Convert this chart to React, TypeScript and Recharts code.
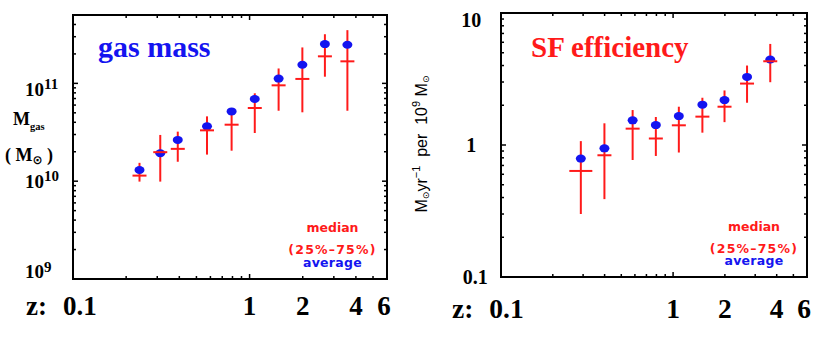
import React from 'react';
import { ComposedChart, Scatter, XAxis, YAxis, ErrorBar } from 'recharts';

// ---------- data ----------
const zGas = [0.238, 0.312, 0.392, 0.574, 0.791, 1.07, 1.46, 1.99, 2.67, 3.58];
const gasAverage = [1.3e10, 1.93e10, 2.64e10, 3.64e10, 5.17e10, 6.92e10, 1.12e11, 1.55e11, 2.52e11, 2.48e11];
const gasMedian = [1.14e10, 1.98e10, 2.14e10, 3.31e10, 3.78e10, 5.6e10, 9.55e10, 1.11e11, 1.89e11, 1.68e11];
const gasP25 = [0.99e10, 0.99e10, 1.58e10, 1.87e10, 2.05e10, 3.11e10, 5.25e10, 5.06e10, 1.17e11, 5.25e10];
const gasP75 = [1.54e10, 2.97e10, 3.21e10, 4.6e10, 5.6e10, 7.91e10, 1.42e11, 2.33e11, 3.18e11, 3.5e11];

const zSfe = [0.291, 0.399, 0.582, 0.794, 1.08, 1.48, 1.99, 2.69, 3.67];
const sfeAverage = [0.789, 0.944, 1.537, 1.416, 1.656, 2.02, 2.19, 3.28, 4.44];
const sfeMedian = [0.636, 0.836, 1.33, 1.12, 1.41, 1.64, 1.95, 2.92, 4.31];
const sfeP25 = [0.3, 0.389, 0.77, 0.826, 0.877, 1.24, 1.49, 2.09, 2.99];
const sfeP75 = [1.07, 1.46, 1.84, 1.63, 1.95, 2.28, 2.59, 4.0, 5.83];

const zDomain = [0.1, 6];
const zTicks = [0.1, 0.2, 0.3, 0.4, 0.5, 0.6, 0.7, 0.8, 0.9, 1, 2, 3, 4, 5, 6];
const zLabels = [0.1, 1, 2, 4, 6];

const gasDomain = [1e9, 5e11];
const gasTicks = [
  1e9, 2e9, 3e9, 4e9, 5e9, 6e9, 7e9, 8e9, 9e9,
  1e10, 2e10, 3e10, 4e10, 5e10, 6e10, 7e10, 8e10, 9e10,
  1e11, 2e11, 3e11, 4e11, 5e11,
];
const gasLabels = [1e9, 1e10, 1e11];

const sfeDomain = [0.1, 10];
const sfeTicks = [
  0.1, 0.2, 0.3, 0.4, 0.5, 0.6, 0.7, 0.8, 0.9,
  1, 2, 3, 4, 5, 6, 7, 8, 9, 10,
];
const sfeLabels = [0.1, 1, 10];

// ---------- tables ----------
const gasAvgData = zGas.map((z, i) => ({ z, y: gasAverage[i] }));
const gasMedData = zGas.map((z, i) => ({
  z,
  y: gasMedian[i],
  err: [gasMedian[i] - gasP25[i], gasP75[i] - gasMedian[i]],
}));
const sfeAvgData = zSfe.map((z, i) => ({ z, y: sfeAverage[i] }));
const sfeMedData = zSfe.map((z, i) => ({
  z,
  y: sfeMedian[i],
  err: [sfeMedian[i] - sfeP25[i], sfeP75[i] - sfeMedian[i]],
}));

// ---------- styles ----------
const RED = '#ff1a1a';
const BLUE = '#1414f0';
const SERIF = "'Liberation Serif', 'Times New Roman', serif";
const SANS = "'Liberation Sans', Arial, sans-serif";
const LEGEND_FONT = "'DejaVu Sans', sans-serif";
const FRAME = { stroke: '#000', strokeWidth: 2, strokeLinecap: 'square' as const };
const TICK = { stroke: '#000', strokeWidth: 1.5 };

const isDecade = (v: number) => {
  const l = Math.log10(v);
  return Math.abs(l - Math.round(l)) < 1e-9;
};
const tickLen = (v: number) => (isDecade(v) ? 5 : 3);
const near = (a: number, b: number) => Math.abs(a - b) < 1e-9 * Math.max(1, Math.abs(b));

// ---------- tick renderers ----------
const makeBottomTick = (baseOff: number, fontSize: number, colonDx: number, firstDx: number) =>
  (props: any) => {
    const { x, y, payload } = props;
    const v = payload.value;
    const showLabel = zLabels.some((l) => near(l, v));
    const textProps = {
      fontFamily: SERIF,
      fontWeight: 'bold' as const,
      fontSize,
      fill: '#000',
    };
    return (
      <g>
        <line x1={x} x2={x} y1={y} y2={y - tickLen(v)} {...TICK} />
        {showLabel && near(v, 0.1) && (
          <>
            <text x={x + colonDx} y={y + baseOff} textAnchor="start" {...textProps}>z:</text>
            <text x={x + firstDx} y={y + baseOff} textAnchor="start" {...textProps}>0.1</text>
          </>
        )}
        {showLabel && !near(v, 0.1) && (
          <text x={near(v, 6) ? x - 3 : x} y={y + baseOff} textAnchor="middle" {...textProps}>
            {String(v)}
          </text>
        )}
      </g>
    );
  };

const TopTick = (props: any) => {
  const { x, y, payload } = props;
  return <line x1={x} x2={x} y1={y} y2={y + tickLen(payload.value)} {...TICK} />;
};

const RightTick = (props: any) => {
  const { x, y, payload } = props;
  return <line x1={x} x2={x - tickLen(payload.value)} y1={y} y2={y} {...TICK} />;
};

const gasLabelDy: Record<string, number> = { '1e9': -1, '1e10': 6.7, '1e11': 12.4 };
const GasLeftTick = (props: any) => {
  const { x, y, payload } = props;
  const v = payload.value;
  const lbl = gasLabels.find((l) => near(l, v));
  const exp = lbl !== undefined ? Math.round(Math.log10(lbl)) : 0;
  return (
    <g>
      <line x1={x} x2={x + tickLen(v)} y1={y} y2={y} {...TICK} />
      {lbl !== undefined && (
        <text
          x={x - 48}
          y={y + (gasLabelDy['1e' + exp] ?? 0)}
          textAnchor="start"
          fontFamily={SERIF}
          fontWeight="bold"
          fontSize={19}
          fill="#000"
        >
          10
          <tspan fontSize={15} dy={-6.5}>{String(exp)}</tspan>
        </text>
      )}
    </g>
  );
};

const SfeLeftTick = (props: any) => {
  const { x, y, payload } = props;
  const v = payload.value;
  const lbl = sfeLabels.find((l) => near(l, v));
  let dy = 6.5;
  let dx = -29.7;
  if (lbl !== undefined && near(lbl, 10)) dy = 13.6;
  if (lbl !== undefined && near(lbl, 0.1)) {
    dy = 7;
    dx = -25.7;
  }
  return (
    <g>
      <line x1={x} x2={x + tickLen(v)} y1={y} y2={y} {...TICK} />
      {lbl !== undefined && (
        <text
          x={x + dx}
          y={y + dy}
          textAnchor="middle"
          fontFamily={SERIF}
          fontWeight="bold"
          fontSize={20}
          fill="#000"
        >
          {String(lbl)}
        </text>
      )}
    </g>
  );
};

// ---------- marker shapes ----------
const AverageDot = (p: any) => <ellipse cx={p.cx} cy={p.cy} rx={5} ry={4} fill={BLUE} />;
const makeMedianMark = (wideZ: number | null) => (p: any) => {
  const hw = wideZ !== null && p.payload && near(p.payload.z, wideZ) ? 11.5 : 7;
  return <line x1={p.cx - hw} x2={p.cx + hw} y1={p.cy} y2={p.cy} stroke={RED} strokeWidth={2} />;
};

const GasBottomTick = makeBottomTick(36.4, 27, -47, -10);
const SfeBottomTick = makeBottomTick(41, 27.5, -49, -11.7);
const GasMedianMark = makeMedianMark(null);
const SfeMedianMark = makeMedianMark(zSfe[0]);

// axes are 1px thick, margins are reduced by 1 so the plot box lands where intended
function Panel(props: {
  width: number;
  margin: { top: number; right: number; bottom: number; left: number };
  yDomain: number[];
  yTicks: number[];
  avgData: any[];
  medData: any[];
  bottomTick: any;
  leftTick: any;
  medianMark: any;
}) {
  const { width, margin, yDomain, yTicks, avgData, medData, bottomTick, leftTick, medianMark } = props;
  const m = {
    top: margin.top - 1,
    right: margin.right - 1,
    bottom: margin.bottom - 1,
    left: margin.left - 1,
  };
  return (
    <ComposedChart width={width} height={338} margin={m}>
      <XAxis
        xAxisId="b"
        type="number"
        dataKey="z"
        scale="log"
        domain={zDomain}
        allowDataOverflow
        ticks={zTicks}
        interval={0}
        height={1}
        tickSize={0}
        tickMargin={0}
        tickLine={false}
        axisLine={FRAME}
        tick={bottomTick}
      />
      <XAxis
        xAxisId="t"
        orientation="top"
        type="number"
        dataKey="z"
        scale="log"
        domain={zDomain}
        allowDataOverflow
        ticks={zTicks}
        interval={0}
        height={1}
        tickSize={0}
        tickMargin={0}
        tickLine={false}
        axisLine={FRAME}
        tick={TopTick}
      />
      <YAxis
        yAxisId="l"
        type="number"
        dataKey="y"
        scale="log"
        domain={yDomain}
        allowDataOverflow
        ticks={yTicks}
        interval={0}
        width={1}
        tickSize={0}
        tickMargin={0}
        tickLine={false}
        axisLine={FRAME}
        tick={leftTick}
      />
      <YAxis
        yAxisId="r"
        orientation="right"
        type="number"
        dataKey="y"
        scale="log"
        domain={yDomain}
        allowDataOverflow
        ticks={yTicks}
        interval={0}
        width={1}
        tickSize={0}
        tickMargin={0}
        tickLine={false}
        axisLine={FRAME}
        tick={RightTick}
      />
      <Scatter
        xAxisId="b"
        yAxisId="l"
        data={avgData}
        dataKey="y"
        shape={AverageDot}
        isAnimationActive={false}
      />
      <Scatter
        xAxisId="b"
        yAxisId="l"
        data={medData}
        dataKey="y"
        shape={medianMark}
        isAnimationActive={false}
      >
        <ErrorBar dataKey="err" direction="y" width={0} stroke={RED} strokeWidth={2} isAnimationActive={false} />
      </Scatter>
    </ComposedChart>
  );
}

function Legend({ cx, base }: { cx: number; base: number }) {
  const common = { fontFamily: LEGEND_FONT, fontWeight: 'bold' as const, fontSize: 12.5, textAnchor: 'middle' as const };
  return (
    <g>
      <text x={cx} y={base} fill={RED} {...common}>median</text>
      <text x={cx} y={base + 22} fill={RED} letterSpacing={1.2} {...common}>(25%–75%)</text>
      <text x={cx} y={base + 34.5} fill={BLUE} letterSpacing={0.3} {...common}>average</text>
    </g>
  );
}

export default function App() {
  return (
    <div style={{ position: 'absolute', left: 0, top: 0, width: 831, height: 338, background: '#fff' }}>
      <div style={{ position: 'absolute', left: 0, top: 0 }}>
        <Panel
          width={415}
          margin={{ top: 15, right: 28, bottom: 59, left: 73 }}
          yDomain={gasDomain}
          yTicks={gasTicks}
          avgData={gasAvgData}
          medData={gasMedData}
          bottomTick={GasBottomTick}
          leftTick={GasLeftTick}
          medianMark={GasMedianMark}
        />
      </div>
      <div style={{ position: 'absolute', left: 415, top: 0 }}>
        <Panel
          width={416}
          margin={{ top: 13, right: 24, bottom: 61, left: 86 }}
          yDomain={sfeDomain}
          yTicks={sfeTicks}
          avgData={sfeAvgData}
          medData={sfeMedData}
          bottomTick={SfeBottomTick}
          leftTick={SfeLeftTick}
          medianMark={SfeMedianMark}
        />
      </div>
      <svg
        width={831}
        height={338}
        style={{ position: 'absolute', left: 0, top: 0, pointerEvents: 'none' }}
      >
        {/* titles */}
        <text x={98} y={57} fontFamily={SERIF} fontWeight="bold" fontSize={30} fill={BLUE}>gas mass</text>
        <text x={531} y={57} fontFamily={SERIF} fontWeight="bold" fontSize={29} fill={RED}>SF efficiency</text>

        {/* left y-axis title */}
        <text x={13} y={125} fontFamily={SERIF} fontWeight="bold" fontSize={18} fill="#000">
          M<tspan fontSize={10.5} dy={5}>gas</tspan>
        </text>
        <text x={5} y={161} fontFamily={SERIF} fontWeight="bold" fontSize={18} fill="#000" style={{ whiteSpace: 'pre' }}>
          ( M<tspan fontFamily={LEGEND_FONT} fontSize={12} dy={3}>⊙</tspan><tspan dy={-3}> )</tspan>
        </text>

        {/* right y-axis title */}
        <text
          transform="translate(427,144) rotate(-90)"
          textAnchor="middle"
          fontFamily={SANS}
          fontSize={16}
          fill="#000"
          style={{ whiteSpace: 'pre' }}
        >
          M<tspan fontFamily={LEGEND_FONT} fontSize={9} dy={2}>⊙</tspan>
          <tspan dy={-2}>yr</tspan>
          <tspan fontSize={11} dy={-7}>−1</tspan>
          <tspan dy={7}>  per  10</tspan>
          <tspan fontSize={11} dy={-7}>9</tspan>
          <tspan dy={7}> M</tspan>
          <tspan fontFamily={LEGEND_FONT} fontSize={9} dy={2}>⊙</tspan>
        </text>

        <Legend cx={332.5} base={232} />
        <Legend cx={754} base={230.5} />
      </svg>
    </div>
  );
}
